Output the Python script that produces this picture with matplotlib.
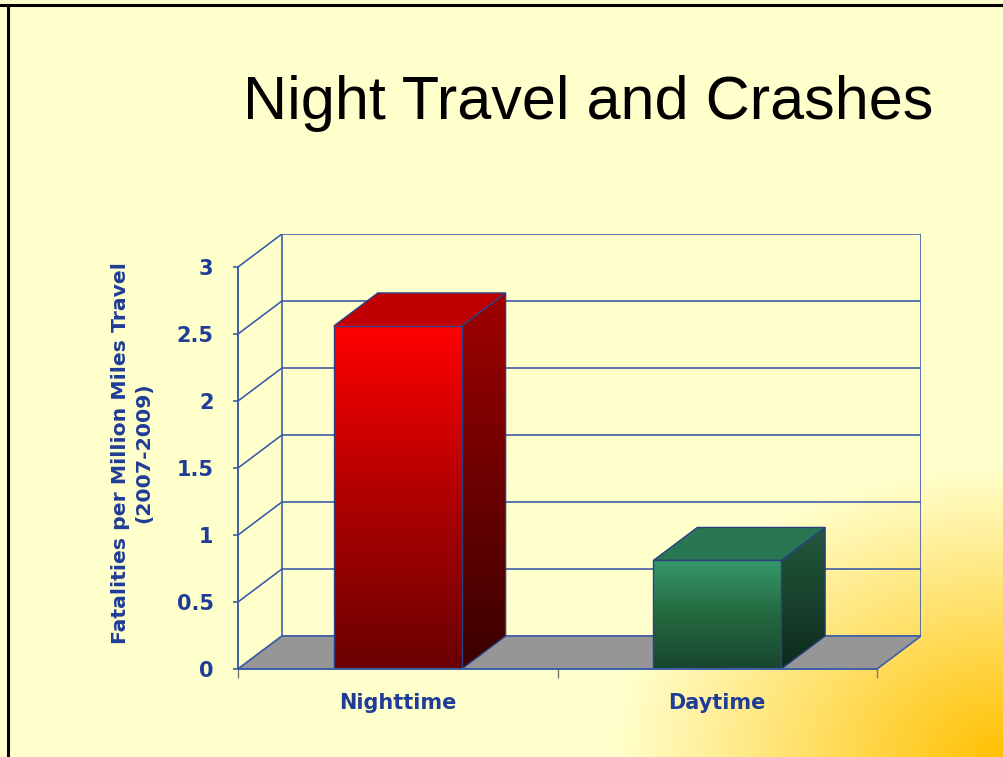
import numpy as np
import matplotlib
matplotlib.use("Agg")
import matplotlib.pyplot as plt
from matplotlib.colors import LinearSegmentedColormap, to_rgb
from matplotlib.patches import Polygon
from matplotlib.lines import Line2D

# ---------------- data ----------------
categories = ["Nighttime", "Daytime"]
values = [2.56, 0.81]
ytick_values = [0, 0.5, 1, 1.5, 2, 2.5, 3]
ytick_labels = ["0", "0.5", "1", "1.5", "2", "2.5", "3"]
title = "Night Travel and Crashes"
ylabel = "Fatalities per Million Miles Travel\n(2007-2009)"

# ---------------- style ----------------
W, H = 1004, 757
DPI = 100
BLUE = "#1F3D96"
GRID = "#3F5DA8"
EDGE = "#2B3F86"
FLOOR = "#969696"
BG = np.array(to_rgb("#FFFFCC"))
ORANGE = np.array(to_rgb("#FFC000"))

front_cmaps = [
    LinearSegmentedColormap.from_list("nf", ["#6A0000", "#B00000", "#FF0000"]),
    LinearSegmentedColormap.from_list("df", ["#184530", "#24693F", "#35986A"]),
]
side_cmaps = [
    LinearSegmentedColormap.from_list("ns", ["#3A0000", "#A00000"]),
    LinearSegmentedColormap.from_list("ds", ["#0E2A1C", "#235A3E"]),
]
top_colors = ["#C00000", "#287652"]

bar_width = 0.4
DX = 44 / 320.0   # depth offset in x data units
DY = 33 / 134.0   # depth offset in y data units
YMAX = 3.0

fig = plt.figure(figsize=(W / DPI, H / DPI), dpi=DPI)

# background with orange gradient from bottom-right
bg = fig.add_axes([0, 0, 1, 1])
yy, xx = np.mgrid[0:H, 0:W]
d = np.sqrt(((W - xx) / 390.0) ** 2 + ((H - yy) / 290.0) ** 2)
t = np.clip(1 - d, 0, 1)
img = BG[None, None, :] * (1 - t[..., None]) + ORANGE[None, None, :] * t[..., None]
bg.imshow(img, extent=[0, 1, 0, 1], origin="upper", aspect="auto")
bg.set_axis_off()
bg.add_line(Line2D([0, 1], [1 - 4.5 / H, 1 - 4.5 / H], color="black", lw=2.2, transform=fig.transFigure))
bg.add_line(Line2D([8.5 / W, 8.5 / W], [0, 1 - 4.5 / H], color="black", lw=2.2, transform=fig.transFigure))

# main axes
left, right, top, bottom = 238, 921, 234, 669
ax = fig.add_axes([left / W, (H - bottom) / H, (right - left) / W, (bottom - top) / H])
ax.patch.set_alpha(0)
n = len(categories)

# back wall & left wall grid
for yv in ytick_values:
    ax.plot([DX, n + DX], [yv + DY, yv + DY], color=GRID, lw=1.2, zorder=1)
    ax.plot([0, DX], [yv, yv + DY], color=GRID, lw=1.2, zorder=1)
ax.plot([DX, DX], [DY, YMAX + DY], color=GRID, lw=1.2, zorder=1)
ax.plot([n + DX, n + DX], [DY, YMAX + DY], color=GRID, lw=1.2, zorder=1)

# floor
floor = Polygon([[0, 0], [n, 0], [n + DX, DY], [DX, DY]], closed=True,
                facecolor=FLOOR, edgecolor=GRID, lw=1.2, zorder=2)
ax.add_patch(floor)

grad = np.linspace(0, 1, 256).reshape(-1, 1)
for i, v in enumerate(values):
    x0 = i + 0.5 - bar_width / 2
    x1 = i + 0.5 + bar_width / 2
    # side face
    side = Polygon([[x1, 0], [x1 + DX, DY], [x1 + DX, v + DY], [x1, v]], closed=True,
                   facecolor="none", edgecolor=EDGE, lw=1.0, zorder=4)
    ax.add_patch(side)
    im = ax.imshow(grad, extent=[x1, x1 + DX, 0, v + DY], origin="lower",
                   cmap=side_cmaps[i], aspect="auto", zorder=3)
    im.set_clip_path(side)
    # top face
    topf = Polygon([[x0, v], [x1, v], [x1 + DX, v + DY], [x0 + DX, v + DY]], closed=True,
                   facecolor=top_colors[i], edgecolor=EDGE, lw=1.0, zorder=4)
    ax.add_patch(topf)
    # front face
    ax.imshow(grad, extent=[x0, x1, 0, v], origin="lower", cmap=front_cmaps[i],
              aspect="auto", zorder=5)
    ax.add_patch(Polygon([[x0, 0], [x1, 0], [x1, v], [x0, v]], closed=True,
                         facecolor="none", edgecolor=EDGE, lw=1.0, zorder=6))

ax.set_xlim(0, n + DX)
ax.set_ylim(0, YMAX + DY)

for s in ["top", "right"]:
    ax.spines[s].set_visible(False)
ax.spines["left"].set_bounds(0, YMAX)
ax.spines["bottom"].set_bounds(0, n)
for s in ["left", "bottom"]:
    ax.spines[s].set_color(GRID)
    ax.spines[s].set_linewidth(1.4)
    ax.spines[s].set_zorder(7)

ax.set_yticks(ytick_values)
ax.set_yticklabels(ytick_labels)
ax.set_xticks(np.arange(n + 1))
ax.set_xticklabels([""] * (n + 1))
ax.set_xticks(np.arange(n) + 0.5, minor=True)
ax.set_xticklabels(categories, minor=True)
ax.tick_params(axis="y", direction="out", length=3.6, width=1.2, color=GRID, pad=14,
               labelcolor=BLUE, labelsize=15)
ax.tick_params(axis="x", which="major", direction="out", length=6.5, width=1.0, color="#7A7A7A")
ax.tick_params(axis="x", which="minor", length=0, pad=17, labelcolor=BLUE, labelsize=15)
for lab in ax.get_yticklabels() + ax.get_xticklabels(minor=True):
    lab.set_fontweight("bold")
    lab.set_family("DejaVu Sans")

fig.text(132 / W, 1 - 453 / H, ylabel, rotation=90, ha="center", va="center",
         multialignment="center", color=BLUE, fontsize=14.7, fontweight="bold",
         family="DejaVu Sans", linespacing=1.3)

fig.text(588 / W, 1 - 103 / H, title, ha="center", va="center", fontsize=44,
         family="Liberation Sans", color="black")

fig.savefig("out.png", dpi=DPI)
